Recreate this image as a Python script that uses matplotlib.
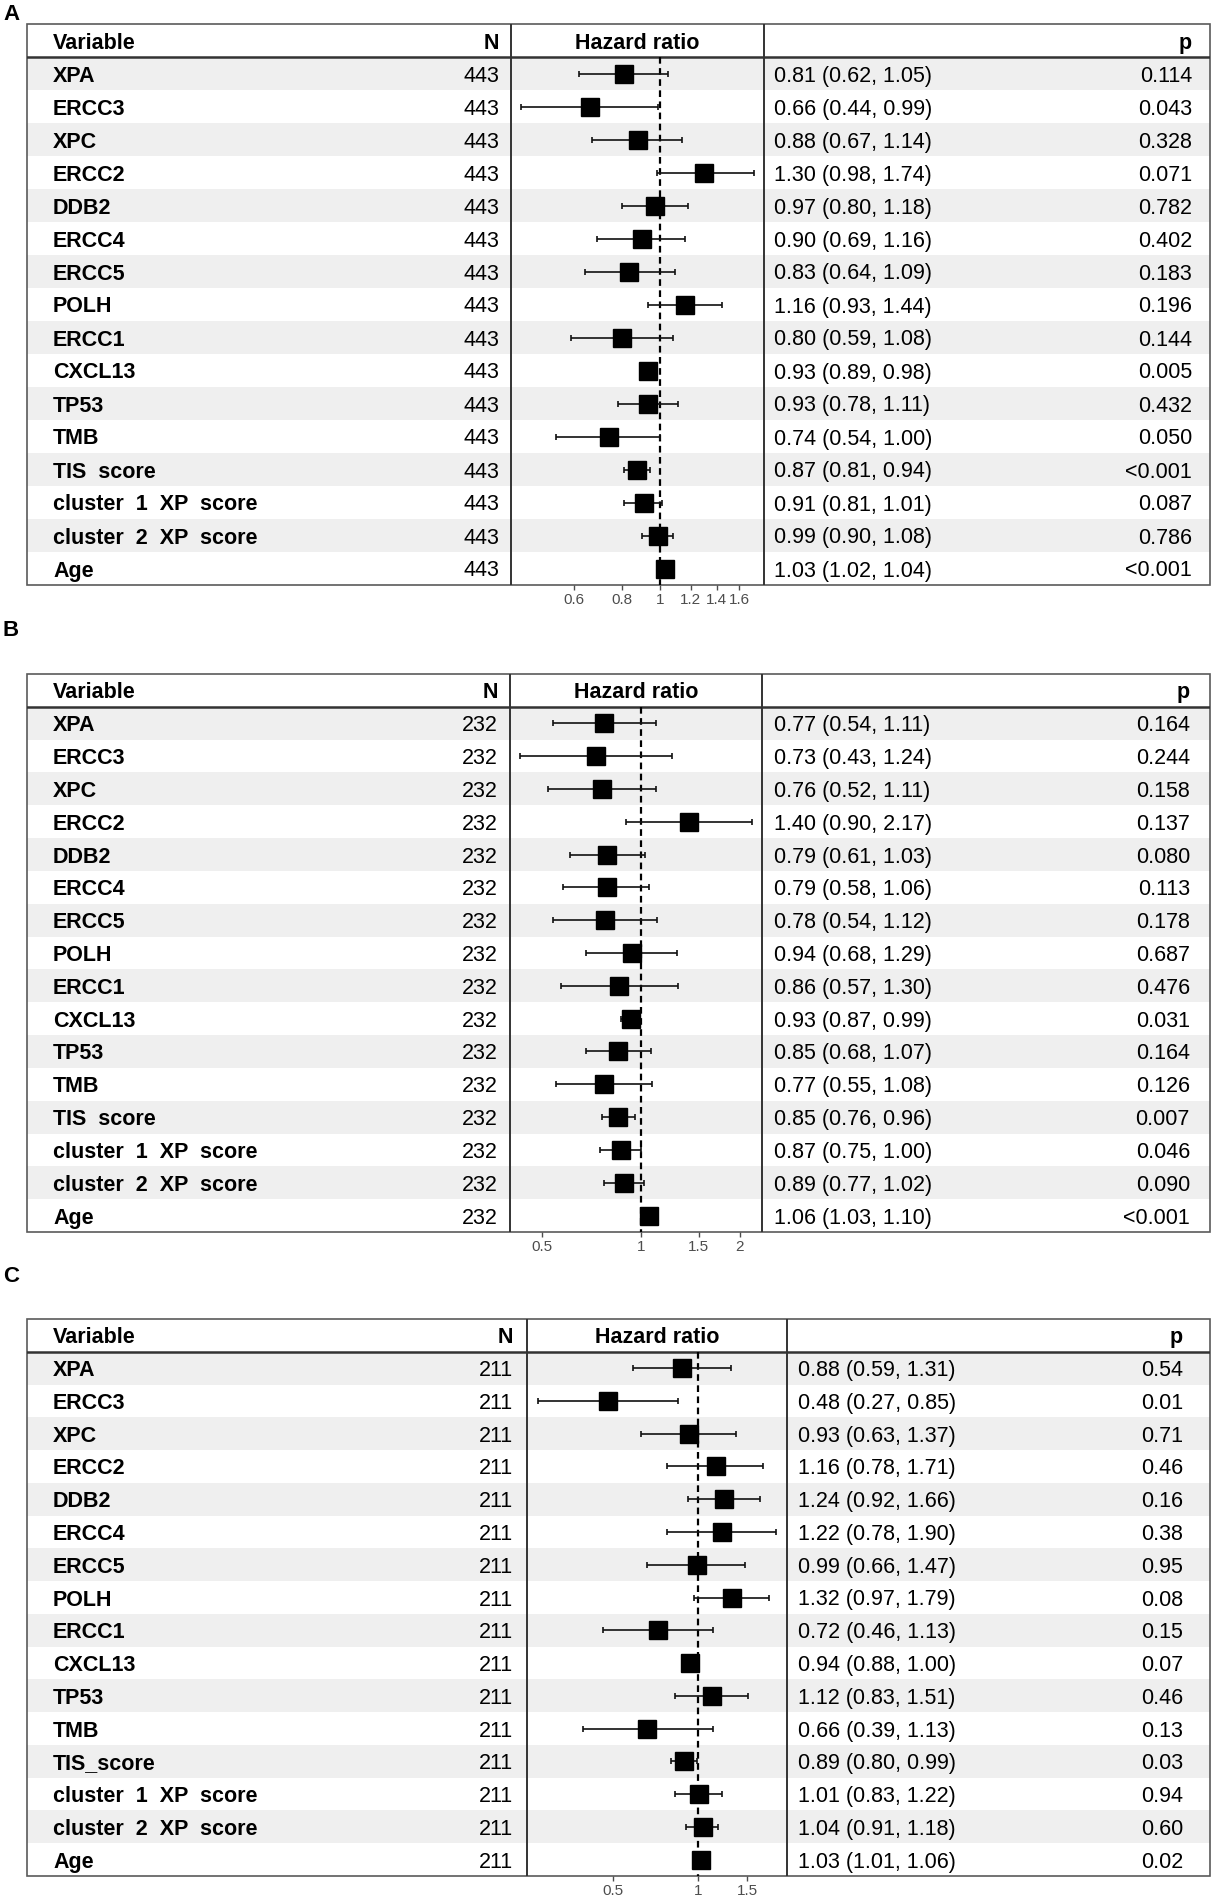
import numpy as np
import matplotlib
matplotlib.use('Agg')
import matplotlib.pyplot as plt
from matplotlib.patches import Rectangle
from matplotlib.ticker import NullLocator

plt.rcParams['font.family'] = ['Liberation Sans', 'DejaVu Sans']

W, H = 1213, 1895

# ---- data ----
variables_ab = ['XPA', 'ERCC3', 'XPC', 'ERCC2', 'DDB2', 'ERCC4', 'ERCC5', 'POLH', 'ERCC1',
                'CXCL13', 'TP53', 'TMB', 'TIS  score', 'cluster  1  XP  score',
                'cluster  2  XP  score', 'Age']
variables_c = ['XPA', 'ERCC3', 'XPC', 'ERCC2', 'DDB2', 'ERCC4', 'ERCC5', 'POLH', 'ERCC1',
               'CXCL13', 'TP53', 'TMB', 'TIS_score', 'cluster  1  XP  score',
               'cluster  2  XP  score', 'Age']

n_a = 443
hr_a = [0.81, 0.66, 0.88, 1.30, 0.97, 0.90, 0.83, 1.16, 0.80, 0.93, 0.93, 0.74, 0.87, 0.91, 0.99, 1.03]
lo_a = [0.62, 0.44, 0.67, 0.98, 0.80, 0.69, 0.64, 0.93, 0.59, 0.89, 0.78, 0.54, 0.81, 0.81, 0.90, 1.02]
hi_a = [1.05, 0.99, 1.14, 1.74, 1.18, 1.16, 1.09, 1.44, 1.08, 0.98, 1.11, 1.00, 0.94, 1.01, 1.08, 1.04]
p_a = ['0.114', '0.043', '0.328', '0.071', '0.782', '0.402', '0.183', '0.196', '0.144', '0.005',
       '0.432', '0.050', '<0.001', '0.087', '0.786', '<0.001']
ticks_a = [0.6, 0.8, 1, 1.2, 1.4, 1.6]

n_b = 232
hr_b = [0.77, 0.73, 0.76, 1.40, 0.79, 0.79, 0.78, 0.94, 0.86, 0.93, 0.85, 0.77, 0.85, 0.87, 0.89, 1.06]
lo_b = [0.54, 0.43, 0.52, 0.90, 0.61, 0.58, 0.54, 0.68, 0.57, 0.87, 0.68, 0.55, 0.76, 0.75, 0.77, 1.03]
hi_b = [1.11, 1.24, 1.11, 2.17, 1.03, 1.06, 1.12, 1.29, 1.30, 0.99, 1.07, 1.08, 0.96, 1.00, 1.02, 1.10]
p_b = ['0.164', '0.244', '0.158', '0.137', '0.080', '0.113', '0.178', '0.687', '0.476', '0.031',
       '0.164', '0.126', '0.007', '0.046', '0.090', '<0.001']
ticks_b = [0.5, 1, 1.5, 2]

n_c = 211
hr_c = [0.88, 0.48, 0.93, 1.16, 1.24, 1.22, 0.99, 1.32, 0.72, 0.94, 1.12, 0.66, 0.89, 1.01, 1.04, 1.03]
lo_c = [0.59, 0.27, 0.63, 0.78, 0.92, 0.78, 0.66, 0.97, 0.46, 0.88, 0.83, 0.39, 0.80, 0.83, 0.91, 1.01]
hi_c = [1.31, 0.85, 1.37, 1.71, 1.66, 1.90, 1.47, 1.79, 1.13, 1.00, 1.51, 1.13, 0.99, 1.22, 1.18, 1.06]
p_c = ['0.54', '0.01', '0.71', '0.46', '0.16', '0.38', '0.95', '0.08', '0.15', '0.07',
       '0.46', '0.13', '0.03', '0.94', '0.60', '0.02']
ticks_c = [0.5, 1, 1.5]

# layout in pixels: label y, top, bottom, N|HR border, HR|CI border, N right, CI left, p right
panels = [
    ('A', variables_ab, n_a, hr_a, lo_a, hi_a, p_a, ticks_a, 14, 24, 585, 511, 764, 499, 774, 1192),
    ('B', variables_ab, n_b, hr_b, lo_b, hi_b, p_b, ticks_b, 631, 674, 1232, 510, 762, 498, 774, 1190),
    ('C', variables_c, n_c, hr_c, lo_c, hi_c, p_c, ticks_c, 1277, 1319, 1876, 527, 787, 513, 798, 1183),
]

TL, TR = 27, 1210
FS = 15.5
shade = '#EFEFEF'

fig = plt.figure(figsize=(W / 100, H / 100), dpi=100)


def fig_axes(x0, y0, x1, y1):
    return fig.add_axes([x0 / W, 1 - y1 / H, (x1 - x0) / W, (y1 - y0) / H])


for (label, names, n, hr, lo, hi, pv, ticks, ly, top, bot, nb, hb, nr, cl, pr) in panels:
    hr = np.array(hr)
    lo = np.array(lo)
    hi = np.array(hi)
    nrow = len(names)
    rows = np.arange(1, nrow + 1)

    fig.text(3 / W, 1 - ly / H, label, fontsize=16, fontweight='bold', ha='left', va='center')

    ax = fig_axes(TL, top, TR, bot)
    ax.set_xlim(TL, TR)
    ax.set_ylim(nrow + 0.5, -0.5)
    ax.axis('off')
    for r in rows[::2]:
        ax.axhspan(r - 0.5, r + 0.5, color=shade, lw=0, zorder=0)
    ax.add_patch(Rectangle((TL, -0.5), TR - TL, nrow + 1, fill=False, ec='#5a5a5a', lw=1.2,
                           clip_on=False, zorder=3))
    ax.axhline(0.5, color='#333333', lw=1.8, zorder=3)
    ax.axvline(nb, color='#333333', lw=1.4, zorder=3)
    ax.axvline(hb, color='#333333', lw=1.4, zorder=3)

    va = 'center_baseline'
    ax.text(53, 0, 'Variable', fontsize=FS, fontweight='bold', va=va, ha='left')
    ax.text(nr, 0, 'N', fontsize=FS, fontweight='bold', va=va, ha='right')
    ax.text((nb + hb) / 2, 0, 'Hazard ratio', fontsize=FS, fontweight='bold', va=va, ha='center')
    ax.text(pr, 0, 'p', fontsize=FS, fontweight='bold', va=va, ha='right')
    for r, name, h, l, u, p in zip(rows, names, hr, lo, hi, pv):
        ax.text(53, r, name, fontsize=FS, fontweight='bold', va=va, ha='left')
        ax.text(nr, r, str(n), fontsize=FS, va=va, ha='right')
        ax.text(cl, r, f'{h:.2f} ({l:.2f}, {u:.2f})', fontsize=FS, va=va, ha='left')
        ax.text(pr, r, p, fontsize=FS, va=va, ha='right')

    # hazard ratio column
    hx = fig_axes(nb, top, hb, bot)
    hx.set_facecolor('none')
    hx.set_xscale('log')
    span = np.log(hi.max()) - np.log(lo.min())
    pad = 0.045 * span
    hx.set_xlim(np.exp(np.log(lo.min()) - pad), np.exp(np.log(hi.max()) + pad))
    hx.set_ylim(nrow + 0.5, -0.5)
    for s in hx.spines.values():
        s.set_visible(False)
    hx.set_yticks([])
    hx.xaxis.set_minor_locator(NullLocator())
    hx.set_xticks(ticks)
    hx.set_xticklabels([f'{t:g}' for t in ticks])
    hx.tick_params(axis='x', length=3.5, width=1, color='#4d4d4d', labelcolor='#4d4d4d',
                   labelsize=11, pad=2)
    hx.plot([1, 1], [0.5, nrow + 0.5], color='black', lw=1.6, ls=(0, (3, 2)), zorder=2)
    hx.errorbar(hr, rows, xerr=[hr - lo, hi - hr], fmt='none', ecolor='#111111',
                elinewidth=1.2, capsize=2.5, capthick=1.2, zorder=3)
    hx.plot(hr, rows, 's', ms=13, color='black', zorder=4)

fig.savefig('out.png', dpi=100)
